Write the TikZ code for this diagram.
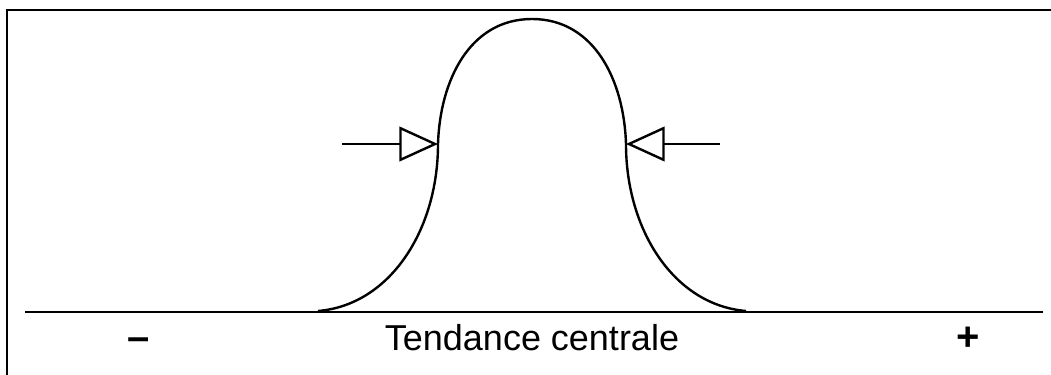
\documentclass[tikz,border=0pt]{standalone}
\usepackage{fontspec}
\setmainfont{Liberation Sans}
\usetikzlibrary{arrows.meta,positioning}

\begin{document}
\begin{tikzpicture}[x=0.75pt, y=-0.75pt, line width=1.8pt,
    pusharrow/.style={-{Triangle[open, length=29pt, width=26pt, line join=miter]}},
    textlabel/.style={font=\fontsize{27}{32}\selectfont, anchor=base, inner sep=0pt},
    signlabel/.style={font=\fontsize{30}{36}\selectfont\bfseries, anchor=base, inner sep=0pt}]
    \useasboundingbox (0,0) rectangle (1051,375);

    % Frame
    \draw (7,375) -- (7,10) -- (1051,10);

    % Axis
    \coordinate (axisleft) at (25,312);
    \coordinate (axisright) at (1043,312);
    \draw (axisleft) -- (axisright);

    % Bell curve
    \coordinate (footleft) at (318,311);
    \coordinate (flankleft) at (438,144);
    \coordinate (peak) at (532,19);
    \coordinate (flankright) at (626,144);
    \coordinate (footright) at (746,311);
    \draw (footleft) .. controls (390,305) and (438,230) .. (flankleft)
        .. controls (440,80) and (470,19) .. (peak)
        .. controls (594,19) and (624,80) .. (flankright)
        .. controls (626,230) and (674,305) .. (footright);

    % Squeezing arrows
    \coordinate (pushleft) at (342,144);
    \coordinate (pushright) at (720,144);
    \draw[pusharrow] (pushleft) -- (flankleft);
    \draw[pusharrow] (pushright) -- (flankright);

    % Labels
    \node[signlabel] (minus) at (139,350) {–};
    \node[textlabel] (title) at (532,350) {Tendance centrale};
    \node[signlabel] (plus) at (968,350) {+};
\end{tikzpicture}
\end{document}
